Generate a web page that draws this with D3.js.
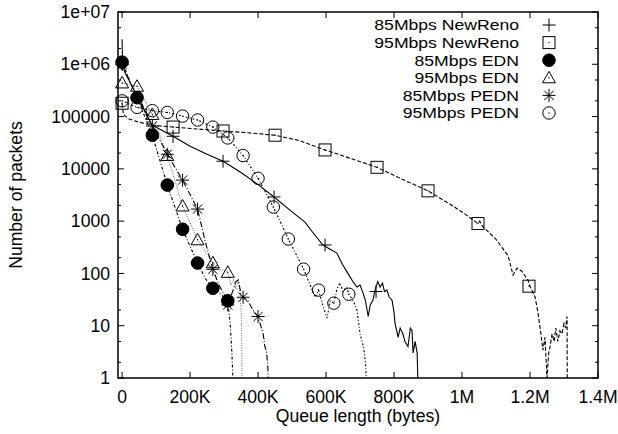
<!DOCTYPE html>
<html>
<head>
<meta charset="utf-8">
<script src="https://cdn.jsdelivr.net/npm/d3@7"></script>
<style>
  body { margin: 0; background: #fff; }
  text { font-family: "Liberation Sans", Arial, sans-serif; font-size: 17.6px; fill: #000; }
</style>
</head>
<body>
<div id="chart"></div>
<script>
// tick values
const xTicks = [0, 200000, 400000, 600000, 800000, 1000000, 1200000, 1400000];
const xTickLabels = ["0", "200K", "400K", "600K", "800K", "1M", "1.2M", "1.4M"];
const yTicks = [1, 10, 100, 1000, 10000, 100000, 1000000, 10000000];
const yTickLabels = ["1", "10", "100", "1000", "10000", "100000", "1e+06", "1e+07"];

const legendLabels = ["85Mbps NewReno", "95Mbps NewReno", "85Mbps EDN", "95Mbps EDN", "85Mbps PEDN", "95Mbps PEDN"];

// series lines [queue bytes, packets]
const newReno85 = [[0,3000000],[1500,1000000],[8000,700000],[44000,250000],[88000,69000],[150000,42000],
  [200000,27000],[250000,19000],[297000,14000],[350000,8500],[400000,5000],[447000,2900],[500000,1500],
  [538000,960],[560000,620],[591000,350],[612000,290],[632000,245],[648000,150],[662000,106],[671000,85],
  [680000,68],[691000,55],[700000,60],[709000,42],[716000,30],[724000,15],[730000,25],[738000,31],
  [745000,50],[752000,70],[759000,55],[766000,65],[772000,45],[779000,48],[786000,35],[794000,31],
  [800000,18],[803000,11],[808000,8],[812000,6],[818000,9],[826000,7],[832000,5],[841000,4],[848000,9],
  [853000,8],[856000,3],[862000,5],[868000,3],[870000,1]];
const newReno95 = [[0,180000],[4000,110000],[20000,90000],[44000,80000],[88000,68000],[150000,63000],
  [220000,58000],[297000,53000],[370000,49000],[450000,44000],[520000,35000],[597000,23000],[670000,16000],
  [750000,10700],[820000,6500],[900000,3800],[960000,2200],[1000000,1500],[1047000,900],[1052000,1000],
  [1060000,800],[1100000,450],[1135000,220],[1140000,170],[1150000,93],[1162000,127],[1176000,110],
  [1194000,75],[1200000,57],[1215000,35],[1224000,17],[1232000,7],[1238000,3.4],[1244000,6],[1250000,1],
  [1255000,3],[1259000,4],[1265000,7],[1271000,5],[1276000,9],[1282000,5],[1288000,8],[1294000,7],
  [1300000,11],[1305000,9],[1309000,15],[1309500,1]];
const edn85 = [[0,1100000],[44000,230000],[89000,44000],[133000,4900],[178000,700],[222000,158],
  [245000,80],[267000,52],[290000,40],[311000,30],[318000,11],[323000,3],[326000,1]];
const edn95 = [[0,440000],[44000,380000],[89000,110000],[133000,18000],[178000,1950],[222000,440],
  [267000,160],[290000,120],[311000,105],[320000,60],[328000,75],[335000,50],[342000,80],[347000,40],
  [351000,15],[353000,1]];
const pedn85 = [[0,1000000],[44000,230000],[89000,66000],[133000,19000],[178000,6100],[222000,1700],
  [245000,400],[267000,120],[285000,60],[300000,40],[311000,25],[325000,45],[335000,70],[342000,75],
  [350000,40],[356000,35],[370000,30],[385000,20],[400000,15],[410000,9],[415000,7],[420000,4],
  [424000,3.4],[428000,2],[430000,1]];
const pedn95 = [[0,200000],[44000,150000],[89000,130000],[133000,120000],[178000,102000],[222000,86000],
  [267000,63000],[311000,39000],[356000,18000],[400000,6600],[445000,1860],[489000,455],[534000,121],
  [568000,35],[578000,48],[590000,25],[603000,14],[612000,30],[623000,27],[632000,50],[641000,66],
  [650000,45],[660000,55],[667000,40],[680000,30],[691000,20],[700000,7],[710000,4],[716000,2],[718000,1]];

// point symbols (every n-th sample, as gnuplot drew them)
const newReno85Marks = [[0,1000000],[150000,42000],[297000,14000],[447000,2900],[597000,350],[747000,45]];
const newReno95Marks = [[0,180000],[150000,63000],[297000,53000],[450000,44000],[597000,23000],
  [750000,10700],[900000,3800],[1047000,900],[1197000,57]];
const edn85Marks = [[0,1100000],[44000,230000],[89000,44000],[133000,4900],[178000,700],[222000,158],
  [267000,52],[311000,30]];
const edn95Marks = [[0,440000],[44000,380000],[89000,110000],[133000,18000],[178000,1950],[222000,440],
  [267000,160],[311000,105]];
const pedn85Marks = [[0,1000000],[44000,230000],[89000,66000],[133000,19000],[178000,6100],[222000,1700],
  [267000,120],[311000,25],[356000,35],[400000,15]];
const pedn95Marks = [[0,200000],[44000,150000],[89000,130000],[133000,120000],[178000,102000],
  [222000,86000],[267000,63000],[311000,39000],[356000,18000],[400000,6600],[445000,1860],[489000,455],
  [534000,121],[578000,48],[623000,27],[667000,40]];

const width = 618, height = 434;
const margin = {top: 12, right: 20, bottom: 56, left: 118};
const plotW = width - margin.left - margin.right;
const plotH = height - margin.top - margin.bottom;

const svg = d3.select("#chart")
  .append("svg")
  .attr("width", width)
  .attr("height", height);

const x = d3.scaleLinear().domain([-12000, 1400000]).range([0, plotW]);
const y = d3.scaleLog().domain([1, 1e7]).range([plotH, 0]);

const g = svg.append("g").attr("transform", `translate(${margin.left},${margin.top})`);

g.append("clipPath").attr("id", "clip")
  .append("rect").attr("x", 0).attr("y", -1).attr("width", plotW).attr("height", plotH + 2);

// minor y ticks (2 and 5 of each decade), inward on both sides
const yMinor = [];
for (let d = 1; d < 1e7; d *= 10) { yMinor.push(d * 2, d * 5); }

const tickG = g.append("g").attr("stroke", "#000").attr("stroke-width", 1);
yTicks.forEach(v => {
  tickG.append("line").attr("x1", 0).attr("x2", 6).attr("y1", y(v)).attr("y2", y(v));
  tickG.append("line").attr("x1", plotW).attr("x2", plotW - 6).attr("y1", y(v)).attr("y2", y(v));
});
yMinor.forEach(v => {
  tickG.append("line").attr("x1", 0).attr("x2", 3).attr("y1", y(v)).attr("y2", y(v));
  tickG.append("line").attr("x1", plotW).attr("x2", plotW - 3).attr("y1", y(v)).attr("y2", y(v));
});
xTicks.forEach(v => {
  tickG.append("line").attr("x1", x(v)).attr("x2", x(v)).attr("y1", plotH).attr("y2", plotH - 6);
  tickG.append("line").attr("x1", x(v)).attr("x2", x(v)).attr("y1", 0).attr("y2", 6);
});

// tick labels
g.selectAll(".xl").data(xTicks).enter().append("text")
  .attr("x", d => x(d)).attr("y", plotH + 25)
  .attr("text-anchor", "middle")
  .text((d, i) => xTickLabels[i]);
g.selectAll(".yl").data(yTicks).enter().append("text")
  .attr("x", -8).attr("y", d => y(d)).attr("dy", "0.35em")
  .attr("text-anchor", "end")
  .text((d, i) => yTickLabels[i]);

// axis titles
svg.append("text")
  .attr("transform", `translate(22,${margin.top + plotH / 2}) rotate(-90)`)
  .attr("text-anchor", "middle")
  .text("Number of packets");
svg.append("text")
  .attr("x", margin.left + plotW / 2).attr("y", 422)
  .attr("text-anchor", "middle")
  .text("Queue length (bytes)");

// symbols
function drawSymbol(sel, kind, cx, cy) {
  const s = sel.append("g").attr("transform", `translate(${cx},${cy})`)
    .attr("stroke", "#000").attr("stroke-width", 1).attr("fill", "none");
  if (kind === "plus") {
    s.append("path").attr("d", "M-6.5,0H6.5M0,-6.5V6.5");
  } else if (kind === "square") {
    s.append("rect").attr("x", -6).attr("y", -6).attr("width", 12).attr("height", 12);
    s.append("circle").attr("r", 0.7).attr("fill", "#000").attr("stroke", "none");
  } else if (kind === "disc") {
    s.append("circle").attr("r", 6.3).attr("fill", "#000");
  } else if (kind === "triangle") {
    s.append("path").attr("d", "M0,-6.5L6.5,5L-6.5,5Z");
    s.append("circle").attr("r", 0.7).attr("fill", "#000").attr("stroke", "none");
  } else if (kind === "star") {
    s.append("path").attr("d", "M-6.5,0H6.5M0,-6.5V6.5M-4.6,-4.6L4.6,4.6M-4.6,4.6L4.6,-4.6");
  } else if (kind === "circle") {
    s.append("circle").attr("r", 6.2);
    s.append("circle").attr("r", 0.7).attr("fill", "#000").attr("stroke", "none");
  }
}

const series = [
  {line: newReno85, marks: newReno85Marks, sym: "plus", color: "#000", dash: null},
  {line: newReno95, marks: newReno95Marks, sym: "square", color: "#000", dash: "4,2"},
  {line: edn85, marks: edn85Marks, sym: "disc", color: "#000", dash: "3,2,1,2"},
  {line: edn95, marks: edn95Marks, sym: "triangle", color: "#777", dash: "1,1.5"},
  {line: pedn85, marks: pedn85Marks, sym: "star", color: "#000", dash: "6,2,1,2"},
  {line: pedn95, marks: pedn95Marks, sym: "circle", color: "#000", dash: "1,2,2,2"}
];

const line = d3.line().x(d => x(d[0])).y(d => y(d[1]));

const plot = g.append("g").attr("clip-path", "url(#clip)");
series.forEach(s => {
  plot.append("path")
    .datum(s.line)
    .attr("d", line)
    .attr("fill", "none")
    .attr("stroke", s.color)
    .attr("stroke-width", 1.1)
    .attr("stroke-dasharray", s.dash);
  s.marks.forEach(d => drawSymbol(g, s.sym, x(d[0]), y(d[1])));
});

// legend (rows are tight, as in gnuplot; glyphs squeezed a little vertically so rows don't collide)
legendLabels.forEach((lab, i) => {
  const ly = 25 + i * 17.6;
  svg.append("text")
    .attr("transform", `translate(519,${ly}) scale(1,0.88)`)
    .attr("dy", "0.35em")
    .attr("text-anchor", "end").text(lab);
  drawSymbol(svg, series[i].sym, 549, ly);
});

// border
g.append("rect").attr("width", plotW).attr("height", plotH)
  .attr("fill", "none").attr("stroke", "#000").attr("stroke-width", 1.5);
</script>
</body>
</html>
